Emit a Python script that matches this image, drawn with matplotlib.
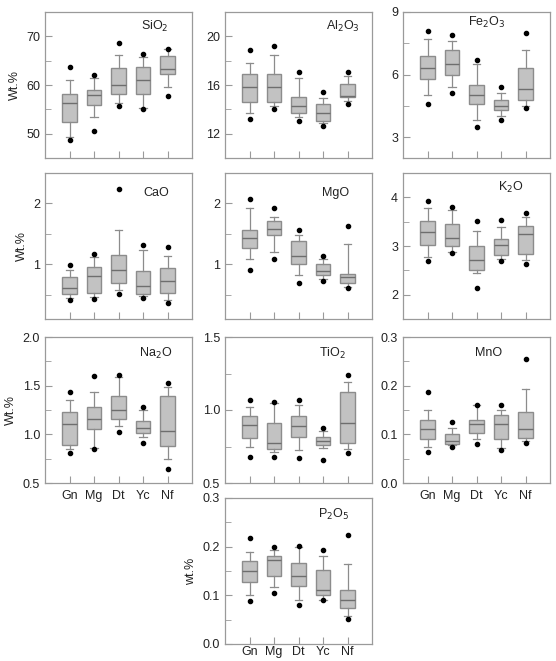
import numpy as np
import matplotlib.pyplot as plt
from matplotlib.ticker import MultipleLocator

plt.rcParams["font.family"] = ["Liberation Sans", "DejaVu Sans"]

GROUPS = ["Gn", "Mg", "Dt", "Yc", "Nf"]

# per oxide: rows are groups, columns are
# low dot, low whisker, Q1, median, Q3, high whisker, high dot
SIO2 = [
    [48.8, 49.4, 52.5, 56.4, 58.1, 61.1, 63.7],
    [50.5, 53.5, 55.8, 57.9, 58.9, 61.4, 62.0],
    [55.7, 56.4, 58.1, 60.0, 63.4, 66.1, 68.6],
    [55.1, 55.2, 58.2, 61.0, 63.8, 65.8, 66.4],
    [57.7, 59.6, 62.3, 63.2, 65.9, 67.3, 67.5],
]
AL2O3 = [
    [13.2, 13.7, 14.6, 15.8, 16.9, 17.8, 18.9],
    [14.0, 14.3, 14.6, 15.8, 16.9, 18.5, 19.2],
    [13.0, 13.4, 13.7, 14.3, 15.0, 16.6, 17.1],
    [12.6, 12.9, 13.0, 13.7, 14.4, 14.9, 15.4],
    [14.4, 14.7, 15.0, 15.1, 16.1, 16.7, 17.1],
]
FE2O3 = [
    [4.6, 5.0, 5.8, 6.3, 6.9, 7.7, 8.1],
    [5.1, 5.4, 6.0, 6.5, 7.2, 7.6, 7.9],
    [3.5, 3.8, 4.6, 5.0, 5.5, 6.5, 6.7],
    [3.8, 4.0, 4.3, 4.5, 4.8, 5.1, 5.4],
    [4.4, 4.5, 4.8, 5.3, 6.3, 7.2, 8.0],
]
CAO = [
    [0.41, 0.44, 0.51, 0.61, 0.79, 0.90, 0.99],
    [0.43, 0.46, 0.52, 0.81, 0.96, 1.12, 1.17],
    [0.51, 0.57, 0.70, 0.91, 1.16, 1.57, 2.23],
    [0.45, 0.48, 0.51, 0.64, 0.89, 1.24, 1.32],
    [0.36, 0.42, 0.52, 0.72, 0.94, 1.13, 1.29],
]
MGO = [
    [0.91, 1.09, 1.27, 1.43, 1.57, 1.92, 2.07],
    [1.09, 1.20, 1.48, 1.58, 1.71, 1.77, 1.92],
    [0.69, 0.83, 1.01, 1.13, 1.38, 1.48, 1.57],
    [0.73, 0.75, 0.83, 0.89, 1.01, 1.08, 1.14],
    [0.61, 0.63, 0.70, 0.79, 0.84, 1.33, 1.63],
]
K2O = [
    [2.69, 2.77, 3.02, 3.29, 3.52, 3.78, 3.93],
    [2.85, 2.88, 3.00, 3.16, 3.46, 3.74, 3.80],
    [2.13, 2.44, 2.51, 2.71, 2.99, 3.30, 3.52],
    [2.69, 2.73, 2.82, 3.02, 3.14, 3.39, 3.54],
    [2.64, 2.71, 2.84, 3.25, 3.42, 3.59, 3.68],
]
NA2O = [
    [0.81, 0.85, 0.89, 1.11, 1.23, 1.35, 1.43],
    [0.85, 0.86, 1.05, 1.16, 1.28, 1.44, 1.60],
    [1.02, 1.09, 1.16, 1.25, 1.39, 1.59, 1.61],
    [0.91, 0.97, 1.01, 1.07, 1.14, 1.25, 1.28],
    [0.64, 0.75, 0.88, 1.03, 1.39, 1.49, 1.53],
]
TIO2 = [
    [0.677, 0.75, 0.807, 0.898, 0.961, 1.018, 1.066],
    [0.680, 0.709, 0.732, 0.773, 0.909, 1.05, 1.057],
    [0.668, 0.723, 0.818, 0.891, 0.957, 1.032, 1.066],
    [0.659, 0.739, 0.757, 0.789, 0.814, 0.859, 0.875],
    [0.705, 0.734, 0.777, 0.909, 1.12, 1.193, 1.239],
]
MNO = [
    [0.063, 0.074, 0.090, 0.111, 0.130, 0.149, 0.187],
    [0.073, 0.078, 0.080, 0.087, 0.100, 0.113, 0.126],
    [0.080, 0.090, 0.102, 0.121, 0.130, 0.160, 0.161],
    [0.068, 0.072, 0.090, 0.121, 0.139, 0.150, 0.160],
    [0.082, 0.087, 0.092, 0.111, 0.145, 0.194, 0.254],
]
P2O5 = [
    [0.088, 0.101, 0.127, 0.149, 0.170, 0.190, 0.217],
    [0.104, 0.118, 0.140, 0.172, 0.180, 0.193, 0.200],
    [0.080, 0.090, 0.120, 0.140, 0.167, 0.200, 0.201],
    [0.090, 0.091, 0.100, 0.110, 0.153, 0.180, 0.193],
    [0.051, 0.057, 0.073, 0.090, 0.110, 0.164, 0.225],
]

# name, data, ylim, major step, minor step, ylabel, x label pad (None = no labels),
# label pos, axes corner (px)
PANELS = [
    ("SiO$_2$", SIO2, (45, 75), 10, 5, "Wt.%", None, (0.75, 0.90), (45, 12)),
    ("Al$_2$O$_3$", AL2O3, (10, 22), 4, 2, None, None, (0.80, 0.90), (225, 12)),
    ("Fe$_2$O$_3$", FE2O3, (2, 9), 3, 1.5, None, None, (0.57, 0.93), (403, 12)),
    ("CaO", CAO, (0.1, 2.5), 1, 0.5, "Wt.%", None, (0.76, 0.86), (45, 173)),
    ("MgO", MGO, (0.1, 2.5), 1, 0.5, None, None, (0.75, 0.86), (225, 173)),
    ("K$_2$O", K2O, (1.5, 4.5), 1, 0.5, None, None, (0.73, 0.90), (403, 173)),
    ("Na$_2$O", NA2O, (0.5, 2.0), 0.5, 0.25, "Wt.%", 5, (0.75, 0.89), (45, 337)),
    ("TiO$_2$", TIO2, (0.5, 1.5), 0.5, 0.25, None, None, (0.73, 0.89), (225, 337)),
    ("MnO", MNO, (0.0, 0.3), 0.1, 0.05, None, 5, (0.58, 0.89), (403, 337)),
    ("P$_2$O$_5$", P2O5, (0.0, 0.3), 0.1, 0.05, "wt.%", 1.5, (0.74, 0.89), (225, 498)),
]

FIG_W, FIG_H = 556, 661
AX_W, AX_H = 147, 146

SPINE = "#9a9a9a"
BOX_FACE = "#c2c2c2"
BOX_EDGE = "#8c8c8c"


def draw_panel(fig, panel):
    name, data, ylim, major, minor, ylabel, xpad, lab_pos, corner = panel
    left = corner[0] / FIG_W
    bottom = 1 - (corner[1] + AX_H) / FIG_H
    ax = fig.add_axes([left, bottom, AX_W / FIG_W, AX_H / FIG_H])

    stats = []
    for row in data:
        stats.append({
            "whislo": row[1], "q1": row[2], "med": row[3],
            "q3": row[4], "whishi": row[5],
            "fliers": [row[0], row[6]],
        })

    ax.bxp(
        stats,
        positions=range(1, len(GROUPS) + 1),
        widths=0.6,
        patch_artist=True,
        boxprops=dict(facecolor=BOX_FACE, edgecolor=BOX_EDGE, linewidth=1.0),
        medianprops=dict(color="#6e6e6e", linewidth=1.0),
        whiskerprops=dict(color=BOX_EDGE, linewidth=0.9),
        capprops=dict(color=BOX_EDGE, linewidth=0.9),
        capwidths=0.3,
        flierprops=dict(marker="o", markerfacecolor="black",
                        markeredgecolor="black", markersize=3),
    )

    ax.set_xlim(0, 6)
    ax.set_ylim(*ylim)
    ax.yaxis.set_major_locator(MultipleLocator(major))
    ax.yaxis.set_minor_locator(MultipleLocator(minor))
    fmt = "{:.0f}" if major >= 1 else "{:.1f}"
    ax.yaxis.set_major_formatter(plt.FuncFormatter(lambda v, p: fmt.format(v)))

    ax.set_xticks(range(1, len(GROUPS) + 1))
    if xpad is not None:
        ax.set_xticklabels(GROUPS)
    else:
        ax.set_xticklabels([])

    ax.tick_params(direction="in", which="both", color=SPINE,
                   labelsize=9, labelcolor="#222222")
    ax.tick_params(which="major", length=5)
    ax.tick_params(which="minor", length=4)
    ax.tick_params(axis="x", which="major", length=5,
                   pad=xpad if xpad is not None else 5)
    for s in ax.spines.values():
        s.set_color(SPINE)
        s.set_linewidth(0.9)

    ax.text(lab_pos[0], lab_pos[1], name, transform=ax.transAxes,
            ha="center", va="center", fontsize=9, color="#222222")
    if ylabel:
        ax.set_ylabel(ylabel, fontsize=9, color="#222222", labelpad=4)
    return ax


def main():
    fig = plt.figure(figsize=(FIG_W / 100, FIG_H / 100), dpi=100)
    for panel in PANELS:
        draw_panel(fig, panel)
    fig.savefig("out.png", dpi=100, facecolor="white")
    plt.close(fig)


if __name__ == "__main__":
    main()
